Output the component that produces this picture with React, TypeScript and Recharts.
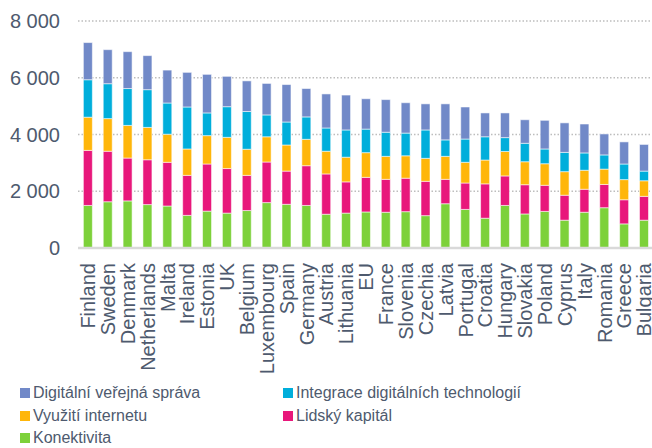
import { BarChart, Bar, XAxis, YAxis, CartesianGrid } from 'recharts'

const countries = [
  'Finland', 'Sweden', 'Denmark', 'Netherlands', 'Malta', 'Ireland', 'Estonia', 'UK',
  'Belgium', 'Luxembourg', 'Spain', 'Germany', 'Austria', 'Lithuania', 'EU', 'France',
  'Slovenia', 'Czechia', 'Latvia', 'Portugal', 'Croatia', 'Hungary', 'Slovakia', 'Poland',
  'Cyprus', 'Italy', 'Romania', 'Greece', 'Bulgaria',
]

const konektivita = [
  1500, 1630, 1660, 1530, 1480, 1150, 1300, 1230, 1320, 1600, 1540, 1500, 1190, 1230, 1270,
  1260, 1280, 1140, 1560, 1360, 1050, 1500, 1200, 1290, 980, 1260, 1420, 850, 980,
]
const lidskyKapital = [
  1940, 1780, 1510, 1580, 1540, 1410, 1660, 1570, 1240, 1430, 1170, 1400, 1420, 1100, 1220,
  1160, 1180, 1210, 860, 930, 1210, 1040, 1030, 920, 880, 810, 820, 850, 840,
]
const vyuzitiInternetu = [
  1170, 1150, 1150, 1140, 990, 930, 1000, 1100, 920, 890, 920, 930, 800, 870, 870,
  810, 790, 810, 810, 730, 840, 860, 810, 760, 830, 670, 540, 710, 550,
]
const integrace = [
  1320, 1230, 1300, 1330, 1100, 1480, 800, 1080, 1330, 770, 810, 790, 820, 960, 830,
  850, 800, 1000, 580, 820, 820, 490, 650, 520, 680, 610, 500, 550, 340,
]
const digitalniSprava = [
  1310, 1200, 1300, 1200, 1160, 1220, 1360, 1070, 1080, 1110, 1320, 1000, 1200, 1230, 1070,
  1150, 1070, 920, 1270, 1130, 840, 870, 830, 1010, 1040, 1020, 740, 780, 940,
]

const yTicks = [0, 2000, 4000, 6000, 8000]

// bottom to top
const series = [
  { key: 'konektivita', name: 'Konektivita', color: '#7DD13A', values: konektivita },
  { key: 'lidsky', name: 'Lidský kapitál', color: '#E8177B', values: lidskyKapital },
  { key: 'vyuziti', name: 'Využití internetu', color: '#FFB60A', values: vyuzitiInternetu },
  { key: 'integrace', name: 'Integrace digitálních technologií', color: '#00AEDB', values: integrace },
  { key: 'sprava', name: 'Digitální veřejná správa', color: '#7189C8', values: digitalniSprava },
]

const legendOrder = ['sprava', 'integrace', 'vyuziti', 'lidsky', 'konektivita']

const data = countries.map((c, i) => {
  const row: Record<string, string | number> = { country: c }
  series.forEach((s) => {
    row[s.key] = s.values[i]
  })
  return row
})

const TEXT = '#4E5A6E'
const FONT = '"Liberation Sans", Arial, sans-serif'

const fmt = (v: number) => String(v).replace(/\B(?=(\d{3})+(?!\d))/g, ' ')

function CountryTick({ x, y, payload }: any) {
  return (
    <text
      transform={`translate(${x},${y + 7}) rotate(-90)`}
      textAnchor="end"
      dy="0.36em"
      fill={TEXT}
      fontSize={20}
      fontFamily={FONT}
    >
      {payload.value}
    </text>
  )
}

export default function App() {
  return (
    <div
      style={{
        position: 'absolute',
        left: 0,
        top: 0,
        width: 652,
        height: 448,
        overflow: 'hidden',
        background: '#fff',
        fontFamily: FONT,
      }}
    >
      <BarChart
        width={654}
        height={376}
        data={data}
        margin={{ top: 21, right: 0, bottom: 0, left: 0 }}
        barCategoryGap="27%"
      >
        <CartesianGrid
          vertical={false}
          stroke="#BDBDBD"
          strokeWidth={1.5}
          strokeDasharray="1.5 2"
        />
        <XAxis
          dataKey="country"
          interval={0}
          height={128}
          tickLine={false}
          axisLine={{ stroke: '#D9D9D9', strokeWidth: 2.5 }}
          tick={<CountryTick />}
        />
        <YAxis
          width={78}
          domain={[0, 8000]}
          ticks={yTicks}
          tickFormatter={fmt}
          tickLine={false}
          axisLine={false}
          tickMargin={12}
          tick={{ fill: TEXT, fontSize: 20, fontFamily: FONT }}
        />
        {series.map((s) => (
          <Bar
            key={s.key}
            dataKey={s.key}
            name={s.name}
            stackId="a"
            fill={s.color}
            stroke="rgba(255,255,255,0.55)"
            strokeWidth={1}
            isAnimationActive={false}
          />
        ))}
      </BarChart>
      <div
        style={{
          position: 'absolute',
          left: 20,
          top: 382,
          display: 'grid',
          gridTemplateColumns: '263px auto',
          fontSize: 16,
          color: TEXT,
          lineHeight: '22.5px',
        }}
      >
        {legendOrder.map((k) => {
          const s = series.find((x) => x.key === k)!
          return (
            <div key={k} style={{ display: 'flex', alignItems: 'center', whiteSpace: 'nowrap' }}>
              <span
                style={{ width: 10, height: 10, background: s.color, marginRight: 3, display: 'inline-block' }}
              />
              {s.name}
            </div>
          )
        })}
      </div>
    </div>
  )
}
